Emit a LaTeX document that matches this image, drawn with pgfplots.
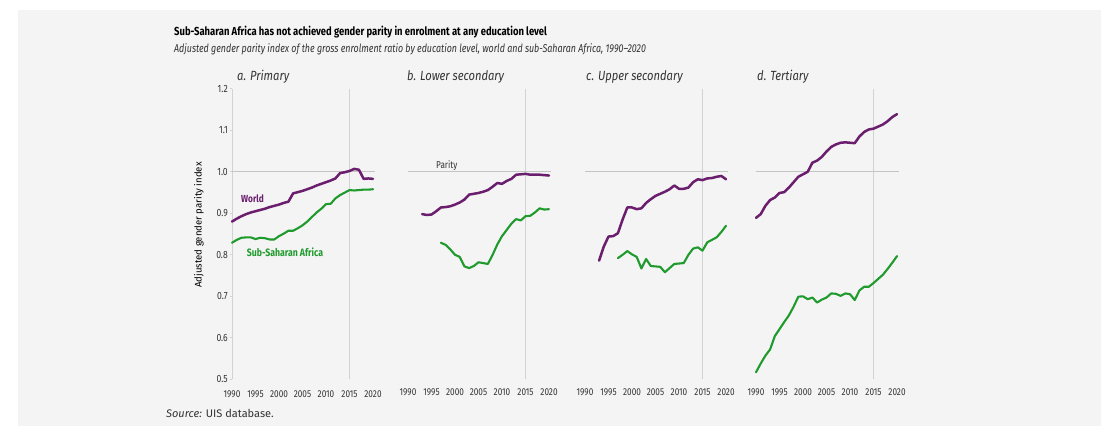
\documentclass[border=0pt]{standalone}
\usepackage{fontspec}
\setmainfont{Fira Sans}[FakeStretch=0.82,
  ItalicFeatures={FakeStretch=0.78},
  BoldFeatures={FakeStretch=0.815}]
\newfontfamily\plainfont{Fira Sans}
\newfontfamily\panelfont{Fira Sans}[FakeStretch=0.84]
\usepackage{pgfplots}
\pgfplotsset{compat=1.18}

\definecolor{bgpanel}{HTML}{F4F4F4}
\definecolor{worldc}{HTML}{6B1E6E}
\definecolor{ssac}{HTML}{1F9A2C}
\definecolor{refline}{HTML}{C4C4C4}
\definecolor{vline}{HTML}{D2D2D2}
\definecolor{textc}{HTML}{333333}

\newcommand{\fs}[1]{\fontsize{#1bp}{#1bp}\selectfont}

% Adjusted gender parity index, world
\pgfplotstableread{
year a b c d
1990 0.880 nan nan 0.889
1991 0.887 nan nan 0.898
1992 0.893 nan nan 0.918
1993 0.898 0.898 0.786 0.932
1994 0.902 0.896 0.820 0.938
1995 0.905 0.897 0.844 0.949
1996 0.908 0.905 0.845 0.951
1997 0.911 0.914 0.852 0.962
1998 0.915 0.915 0.885 0.975
1999 0.918 0.917 0.914 0.988
2000 0.921 0.921 0.914 0.994
2001 0.925 0.926 0.910 1.000
2002 0.928 0.933 0.912 1.022
2003 0.948 0.945 0.925 1.027
2004 0.951 0.947 0.934 1.036
2005 0.954 0.949 0.942 1.049
2006 0.958 0.952 0.947 1.060
2007 0.962 0.956 0.952 1.066
2008 0.967 0.964 0.958 1.070
2009 0.971 0.973 0.967 1.071
2010 0.975 0.971 0.959 1.070
2011 0.979 0.978 0.959 1.069
2012 0.984 0.983 0.962 1.085
2013 0.997 0.993 0.975 1.096
2014 0.999 0.994 0.982 1.102
2015 1.002 0.995 0.980 1.104
2016 1.007 0.993 0.984 1.109
2017 1.005 0.993 0.985 1.114
2018 0.983 0.993 0.988 1.122
2019 0.984 0.992 0.990 1.132
2020 0.983 0.991 0.982 1.139
}\worldtab

% Adjusted gender parity index, sub-Saharan Africa
\pgfplotstableread{
year a b c d
1990 0.829 nan nan 0.517
1991 0.836 nan nan 0.538
1992 0.841 nan nan 0.557
1993 0.842 nan nan 0.572
1994 0.842 nan nan 0.604
1995 0.838 nan nan 0.621
1996 0.841 nan nan 0.638
1997 0.840 0.829 0.792 0.654
1998 0.837 0.824 0.800 0.675
1999 0.837 0.813 0.809 0.699
2000 0.845 0.800 0.801 0.700
2001 0.851 0.795 0.795 0.693
2002 0.858 0.772 0.767 0.697
2003 0.858 0.768 0.790 0.685
2004 0.864 0.773 0.773 0.692
2005 0.871 0.782 0.772 0.697
2006 0.880 0.780 0.771 0.707
2007 0.891 0.778 0.758 0.706
2008 0.902 0.800 0.768 0.701
2009 0.911 0.825 0.778 0.707
2010 0.922 0.845 0.779 0.705
2011 0.923 0.860 0.780 0.691
2012 0.936 0.875 0.800 0.714
2013 0.944 0.886 0.815 0.723
2014 0.950 0.883 0.818 0.723
2015 0.956 0.893 0.810 0.732
2016 0.955 0.894 0.830 0.742
2017 0.956 0.902 0.836 0.752
2018 0.957 0.912 0.842 0.766
2019 0.957 0.909 0.855 0.781
2020 0.958 0.910 0.870 0.797
}\ssatab

\pgfplotsset{
  gpipanel/.style={
    scale only axis,
    width=142.9bp, height=290.5bp,
    xmin=1990, xmax=2020.4, ymin=0.5, ymax=1.2,
    anchor=south west,
    axis line style={draw=none},
    xtick={1990,1995,2000,2005,2010,2015,2020},
    major x tick style={draw=none},
    x tick label style={font=\fs{10}, text=textc, inner sep=1bp, yshift=-8bp},
    /pgf/number format/1000 sep={},
    /pgf/number format/assume math mode=true,
    ytick=\empty,
    clip=false,
    unbounded coords=discard,
  },
  refv/.style={draw=vline, line width=1.8bp},
  refh/.style={draw=refline, line width=0.9bp},
  worldline/.style={draw=worldc, line width=2.5bp, line join=round, line cap=round},
  ssaline/.style={draw=ssac, line width=2.1bp, line join=round, line cap=round},
}

% one panel: reference lines, then the two series of column #1
\newcommand{\gpiseries}[1]{%
  \addplot[refv] coordinates {(2015,0.5) (2015,1.2)};
  \addplot[refh] coordinates {(1990,1) (2020.4,1)};
  \addplot[worldline] table[x=year, y=#1] {\worldtab};
  \addplot[ssaline] table[x=year, y=#1] {\ssatab};
}

\begin{document}
\begin{tikzpicture}
  \path[use as bounding box] (0bp,0bp) rectangle (1101bp,-426bp);
  \fill[bgpanel] (18bp,-10bp) rectangle (1101bp,-426bp);

  % a. Primary
  \begin{axis}[gpipanel, at={(232bp,-379.3bp)},
      axis y line*=left,
      y axis line style={draw=vline, line width=1bp},
      ytick={0.5,0.6,0.7,0.8,0.9,1.0,1.1,1.2},
      major y tick style={draw=vline, line width=0.8bp},
      major tick length=2.5bp, tick align=outside,
      y tick label style={font=\fs{10.5}, text=textc, inner sep=1.5bp,
        /pgf/number format/fixed, /pgf/number format/fixed zerofill,
        /pgf/number format/precision=1},
      major x tick style={draw=none},
    ]
    \gpiseries{a}
  \end{axis}

  % b. Lower secondary
  \begin{axis}[gpipanel, at={(408bp,-379.3bp)}]
    \gpiseries{b}
  \end{axis}

  % c. Upper secondary
  \begin{axis}[gpipanel, at={(585bp,-379.3bp)}]
    \gpiseries{c}
  \end{axis}

  % d. Tertiary
  \begin{axis}[gpipanel, at={(756bp,-379.3bp)}]
    \gpiseries{d}
  \end{axis}

  \begin{scope}[x=1bp, y=-1bp]
    \node[anchor=base west, font=\bfseries\fs{11.6}, text=black, inner sep=0] at (174,35)
      {Sub-Saharan Africa has not achieved gender parity in enrolment at any education level};
    \node[anchor=base west, font=\itshape\fs{11.4}, text=textc, inner sep=0] at (174,52.5)
      {Adjusted gender parity index of the gross enrolment ratio by education level, world and sub-Saharan Africa, 1990--2020};

    \node[anchor=west, font=\panelfont\itshape\fs{13.3}, text=textc, inner sep=0] at (237,77) {a. Primary};
    \node[anchor=west, font=\panelfont\itshape\fs{13.3}, text=textc, inner sep=0] at (407,77) {b. Lower secondary};
    \node[anchor=west, font=\panelfont\itshape\fs{13.3}, text=textc, inner sep=0] at (586,77) {c. Upper secondary};
    \node[anchor=west, font=\panelfont\itshape\fs{13.3}, text=textc, inner sep=0] at (757,77) {d. Tertiary};

    \node[rotate=90, font=\plainfont\fs{9.6}, text=black, inner sep=0] at (199,225)
      {Adjusted gender parity index};

    \node[anchor=west, font=\bfseries\fs{10.2}, text=worldc, inner sep=0] at (241,198.3) {World};
    \node[anchor=west, font=\bfseries\fs{10.7}, text=ssac, inner sep=0] at (246.7,252.7) {Sub-Saharan Africa};
    \node[anchor=west, font=\fs{10}, text=textc, inner sep=0] at (436,165.3) {Parity};

    \node[anchor=west, font=\plainfont\fs{11}, text=textc, inner sep=0] at (166,413)
      {\textit{Source:} UIS database.};
  \end{scope}
\end{tikzpicture}
\end{document}
